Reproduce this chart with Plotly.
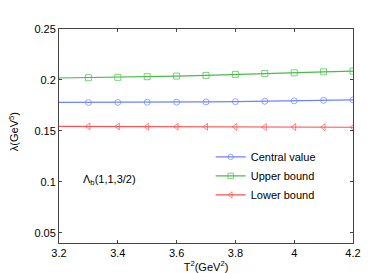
import plotly.graph_objects as go

T2 = [3.2, 3.3, 3.4, 3.5, 3.6, 3.7, 3.8, 3.9, 4.0, 4.1, 4.2]
central = [0.1779, 0.1779, 0.1780, 0.1781, 0.1782, 0.1784, 0.1787, 0.1791, 0.1795, 0.1800, 0.1805]
upper = [0.2019, 0.2022, 0.2026, 0.2032, 0.2038, 0.2045, 0.2055, 0.2064, 0.2070, 0.2080, 0.2087]
lower = [0.1545, 0.1544, 0.1543, 0.1542, 0.1541, 0.1540, 0.1539, 0.1538, 0.1537, 0.1536, 0.1536]
names = ["Central value", "Upper bound", "Lower bound"]
colors = ["rgb(110,130,255)", "rgb(70,190,70)", "rgb(255,80,80)"]
symbols = ["circle-open", "square-open", "triangle-left-open"]
xticks = [3.2, 3.4, 3.6, 3.8, 4.0, 4.2]
xticklabels = ["3.2", "3.4", "3.6", "3.8", "4", "4.2"]
yticks = [0.05, 0.1, 0.15, 0.2, 0.25]
yticklabels = ["0.05", "0.1", "0.15", "0.2", "0.25"]

fig = go.Figure()
for ys, nm, c, s in zip([central, upper, lower], names, colors, symbols):
    sizes = [0] + [6] * (len(T2) - 1)
    fig.add_trace(go.Scatter(x=T2, y=ys, name=nm, mode="lines+markers",
                             line=dict(color=c, width=1.2),
                             marker=dict(symbol=s, color=c, size=sizes, line=dict(width=1, color=c))))

fig.add_annotation(x=3.275, y=0.102, xref="x", yref="y", text="Λ<sub>b</sub>(1,1,3/2)",
                   showarrow=False, xanchor="left", yanchor="middle",
                   font=dict(size=11, color="black"))
fig.add_annotation(x=-0.155, y=0.52, xref="paper", yref="paper", text="λ(GeV<sup>5</sup>)",
                   showarrow=False, textangle=-90, xanchor="center", yanchor="middle",
                   font=dict(size=11, color="black"))

axis_common = dict(showgrid=False, zeroline=False, showline=True, linecolor="#444",
                   linewidth=1, mirror="ticks", ticks="inside", ticklen=3,
                   tickcolor="#444", tickfont=dict(size=11, color="black"))
fig.update_xaxes(range=[3.2, 4.2], tickvals=xticks, ticktext=xticklabels,
                 title=dict(text="T<sup>2</sup>(GeV<sup>2</sup>)", font=dict(size=11, color="black"), standoff=2),
                 **axis_common)
fig.update_yaxes(range=[0.04, 0.25], tickvals=yticks, ticktext=yticklabels,
                 **axis_common)
fig.update_layout(width=382, height=273, margin=dict(l=51, r=37, t=21, b=35),
                  paper_bgcolor="white", plot_bgcolor="white",
                  font=dict(family="Liberation Sans, Arial, sans-serif", size=11, color="black"),
                  legend=dict(x=0.516, y=0.47, xanchor="left", yanchor="top",
                              bgcolor="rgba(0,0,0,0)", font=dict(size=11),
                              tracegroupgap=0, itemwidth=30))
fig.write_html("out.html")
